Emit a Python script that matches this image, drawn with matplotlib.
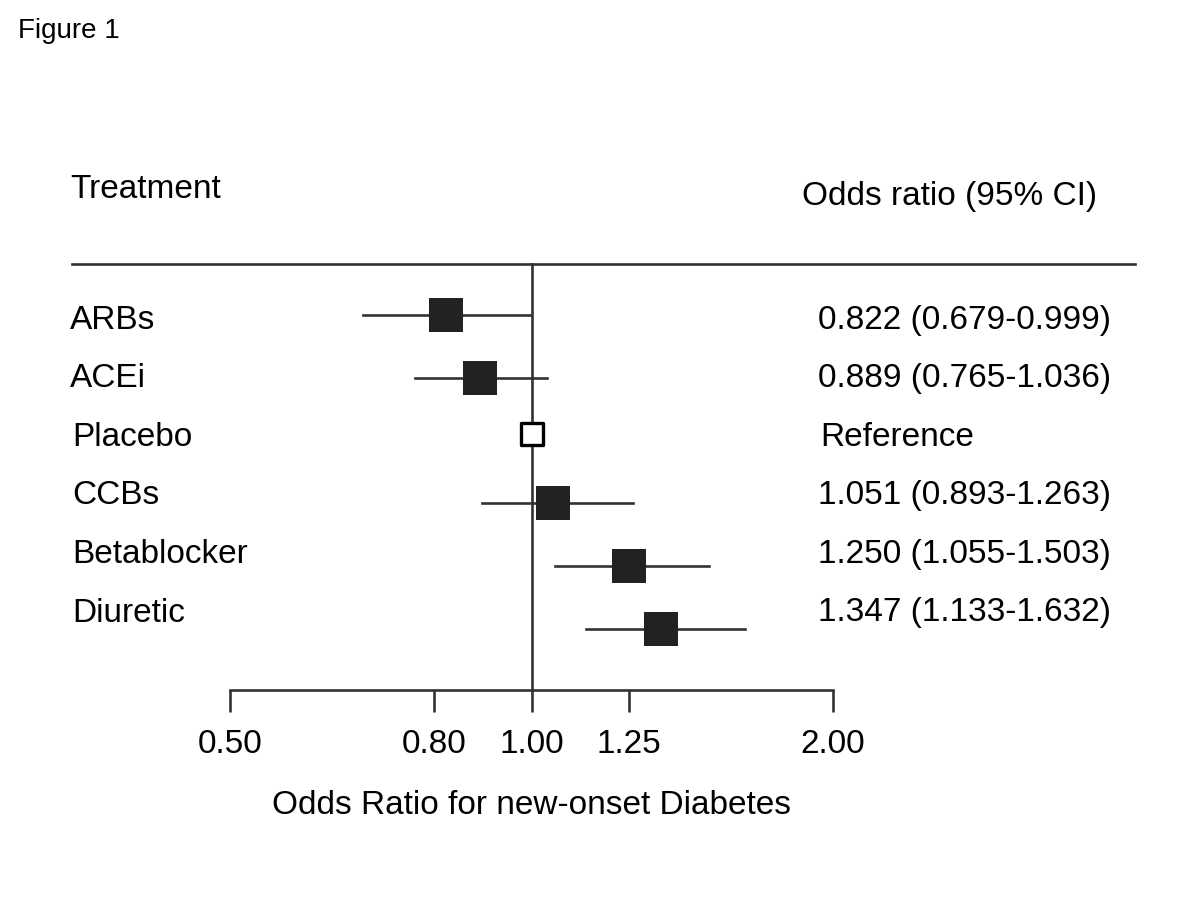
import matplotlib
matplotlib.use("Agg")
import matplotlib.pyplot as plt
from matplotlib.lines import Line2D
from matplotlib.ticker import FixedLocator, FixedFormatter, NullLocator

plt.rcParams['font.family'] = ['Liberation Sans', 'DejaVu Sans']

treatments = ["ARBs", "ACEi", "Placebo", "CCBs", "Betablocker", "Diuretic"]
odds_ratio = [0.822, 0.889, 1.0, 1.051, 1.250, 1.347]
ci_low = [0.679, 0.765, 1.0, 0.893, 1.055, 1.133]
ci_high = [0.999, 1.036, 1.0, 1.263, 1.503, 1.632]
or_text = ["0.822 (0.679-0.999)", "0.889 (0.765-1.036)", "Reference",
           "1.051 (0.893-1.263)", "1.250 (1.055-1.503)", "1.347 (1.133-1.632)"]
tick_values = [0.50, 0.80, 1.00, 1.25, 2.00]
tick_labels = ["0.50", "0.80", "1.00", "1.25", "2.00"]

W, H = 1200, 900
fig = plt.figure(figsize=(12, 9), dpi=100)

def fx(px):
    return px / W

def fy(py):
    return 1 - py / H

ink = "#222222"
line_c = "#333333"

# main forest axes
ax_left, ax_right = 230, 833
ax_top, ax_bot = 264, 690
ax = fig.add_axes([fx(ax_left), fy(ax_bot), fx(ax_right - ax_left), (ax_bot - ax_top) / H])
ax.set_xscale('log')
ax.set_xlim(0.5, 2.0)
row0, step = 314.7, 62.9
ax.set_ylim((ax_bot - row0) / step, (ax_top - row0) / step)

for s in ["top", "right", "left"]:
    ax.spines[s].set_visible(False)
ax.spines["bottom"].set_linewidth(1.9)
ax.spines["bottom"].set_color(line_c)
ax.set_yticks([])
ax.xaxis.set_major_locator(FixedLocator(tick_values))
ax.xaxis.set_major_formatter(FixedFormatter(tick_labels))
ax.xaxis.set_minor_locator(NullLocator())
ax.tick_params(axis='x', which='major', direction='out', length=16, width=1.9,
               color=line_c, labelsize=24, pad=12, labelcolor="black")
ax.set_xlabel("Odds Ratio for new-onset Diabetes", fontsize=24, labelpad=22)
ax.patch.set_alpha(0)

# reference line at 1
ylo, yhi = ax.get_ylim()
ax.plot([1.0, 1.0], [ylo, yhi], color=line_c, lw=1.9, clip_on=False, zorder=1)

rows = list(range(len(treatments)))
for i in rows:
    if treatments[i] == "Placebo":
        ax.scatter([odds_ratio[i]], [i - 0.1], marker='s', s=230, facecolor='white',
                   edgecolor='black', linewidths=2.4, zorder=4)
    else:
        ax.plot([ci_low[i], ci_high[i]], [i, i], color=line_c, lw=1.9, zorder=2)
        ax.scatter([odds_ratio[i]], [i], marker='s', s=600, color=ink,
                   linewidths=0, zorder=3)

# headers and texts
fig.text(fx(18), fy(31), "Figure 1", fontsize=20, ha='left', va='center')
fig.text(fx(70), fy(190), "Treatment", fontsize=24, ha='left', va='center')
fig.text(fx(802), fy(196), "Odds ratio (95% CI)", fontsize=24, ha='left', va='center')

fig.add_artist(Line2D([fx(72), fx(1135)], [fy(264), fy(264)], color=line_c, lw=1.9))

lab_y0, lab_step = 320, 58.6
for i, (t, o) in enumerate(zip(treatments, or_text)):
    y = fy(lab_y0 + lab_step * i)
    fig.text(fx(70 if i < 2 else 72), y, t, fontsize=24, ha='left', va='center')
    fig.text(fx(818 if o != "Reference" else 820), y, o, fontsize=24, ha='left', va='center')

fig.savefig("out.png", dpi=100, facecolor='white')
